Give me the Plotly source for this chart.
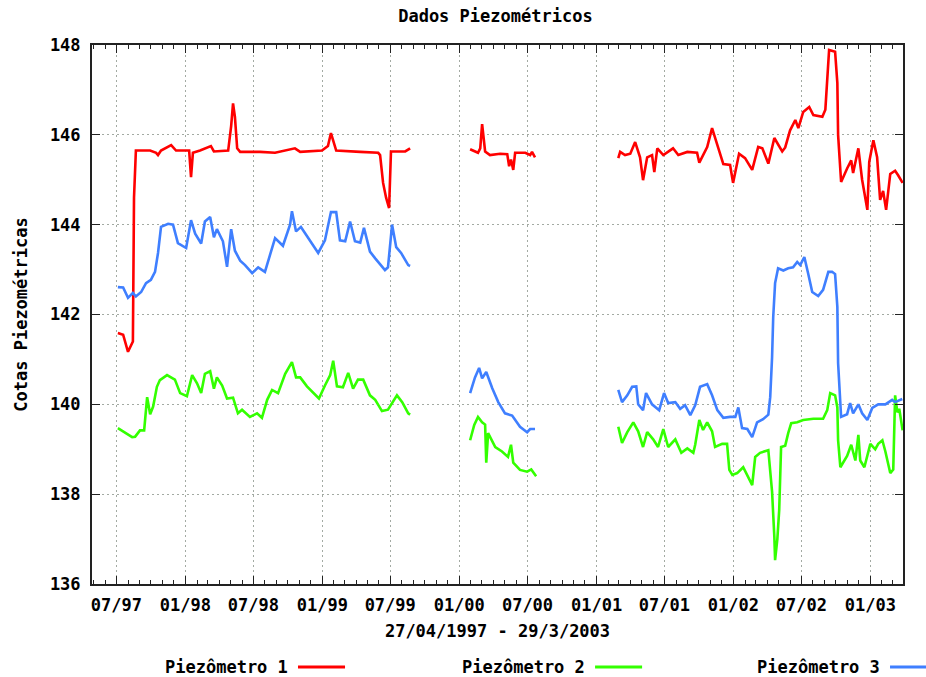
import pandas as pd
import plotly.graph_objects as go

# Record starts on 27/04/1997; positions are days since that date.
START = pd.Timestamp("1997-04-27")
END = pd.Timestamp("2003-03-29")

# None marks the periods with no readings
p1_days = [69, 83, 96, 104, 109, 112, 117, 155, 171, 176, 184, 211, 224, 259, 264, 269, 288, 317, 325,
           363, 371, 376, 381, 387, 395, 448, 488, 541, 555, 613, 629, 637, 645, 651, 715, 763, 768,
           776, 784, 792, 797, 835, 848,
           900,
           1008, 1029, 1035, 1040, 1048, 1061, 1088, 1107, 1112, 1117, 1123, 1128, 1155, 1168, 1173, 1181,
           1300,
           1403, 1408, 1421, 1435, 1448, 1461, 1469, 1480, 1493, 1499, 1507, 1523, 1549, 1563, 1587, 1613,
           1619, 1640, 1653, 1667, 1683, 1701, 1709, 1725, 1741, 1760, 1776, 1787, 1803, 1819, 1840, 1848,
           1861, 1875, 1883, 1896, 1912, 1923, 1947, 1955, 1960, 1965, 1981, 1987, 1989, 1997, 2013, 2024,
           2029, 2043, 2053, 2067, 2072, 2083, 2093, 2101, 2109, 2117, 2128, 2141, 2149, 2161]
p1_vals = [141.59, 141.55, 141.17, 141.30, 141.40, 144.60, 145.65, 145.65, 145.60, 145.55, 145.65, 145.77,
           145.65, 145.65, 145.06, 145.60, 145.65, 145.75, 145.63,
           145.65, 146.20, 146.70, 146.40, 145.70, 145.62, 145.62, 145.60, 145.70, 145.62, 145.65, 145.75,
           146.04, 145.80, 145.65, 145.62, 145.60, 145.55, 144.93, 144.60, 144.37, 145.63, 145.63, 145.70,
           None,
           145.68, 145.60, 145.70, 146.24, 145.63, 145.55, 145.58, 145.57, 145.30, 145.45, 145.22, 145.60,
           145.60, 145.55, 145.62, 145.50,
           None,
           145.48, 145.62, 145.55, 145.58, 145.84, 145.50, 144.99, 145.50, 145.55, 145.17, 145.70, 145.55,
           145.70, 145.55, 145.62, 145.60, 145.38, 145.73, 146.15, 145.80, 145.35, 145.33, 144.93, 145.58,
           145.48, 145.22, 145.73, 145.70, 145.36, 145.93, 145.63, 145.72, 146.10, 146.33, 146.15, 146.51,
           146.62, 146.44, 146.40, 146.56, 147.37, 147.89, 147.85, 147.15, 146.00, 144.95, 145.25, 145.43,
           145.15, 145.70, 145.00, 144.33, 145.40, 145.88, 145.50, 144.55, 144.75, 144.33, 145.13, 145.20,
           145.10, 144.93]

p2_days = [69, 88, 107, 115, 128, 139, 147, 155, 163, 173, 181, 200, 221, 235, 253, 267, 280, 291, 301,
           315, 325, 333, 347, 360, 376, 389, 400, 421, 440, 453, 467, 480, 496, 515, 533, 544, 555, 573,
           605, 621, 635, 643, 653, 669, 683, 696, 709, 723, 741, 755, 773, 789, 813, 827, 843, 848,
           900,
           1008, 1019, 1029, 1040, 1048, 1051, 1056, 1075, 1093, 1109, 1117, 1123, 1141, 1160, 1171, 1184,
           1300,
           1403, 1413, 1427, 1443, 1456, 1469, 1480, 1496, 1509, 1523, 1536, 1555, 1571, 1587, 1603, 1608,
           1619, 1629, 1640, 1653, 1661, 1680, 1693, 1699, 1707, 1720, 1736, 1747, 1760, 1768, 1781, 1803,
           1813, 1819, 1821, 1827, 1832, 1837, 1848, 1856, 1864, 1880, 1896, 1923, 1949, 1960, 1968, 1981,
           1987, 1989, 1995, 2013, 2024, 2035, 2043, 2048, 2059, 2075, 2088, 2096, 2107, 2115, 2128, 2136,
           2141, 2147, 2152, 2161]
p2_vals = [139.47, 139.37, 139.27, 139.28, 139.42, 139.42, 140.16, 139.78, 139.95, 140.39, 140.54, 140.65,
           140.55, 140.25, 140.18, 140.65, 140.47, 140.25, 140.68, 140.74, 140.35, 140.60, 140.42, 140.13,
           140.15, 139.80, 139.88, 139.72, 139.80, 139.70, 140.10, 140.32, 140.25, 140.68, 140.94, 140.60,
           140.60, 140.40, 140.13, 140.42, 140.65, 140.97, 140.40, 140.38, 140.70, 140.35, 140.55, 140.55,
           140.20, 140.10, 139.85, 139.88, 140.20, 140.05, 139.80, 139.77,
           None,
           139.20, 139.54, 139.72, 139.60, 139.55, 138.70, 139.36, 139.05, 138.95, 138.83, 139.10, 138.70,
           138.54, 138.50, 138.55, 138.40,
           None,
           139.50, 139.14, 139.38, 139.60, 139.40, 139.05, 139.38, 139.22, 139.05, 139.45, 139.05, 139.22,
           138.92, 139.02, 138.92, 139.10, 139.65, 139.43, 139.60, 139.40, 139.05, 139.12, 139.12, 138.54,
           138.43, 138.47, 138.60, 138.40, 138.20, 138.83, 138.92, 138.98, 138.05, 137.05, 136.53, 137.00,
           137.65, 139.05, 139.08, 139.36, 139.58, 139.60, 139.65, 139.68, 139.68, 139.87, 140.25, 140.20,
           139.93, 139.20, 138.60, 138.85, 139.10, 138.75, 139.32, 138.75, 138.60, 139.12, 139.00, 139.12,
           139.20, 138.95, 138.47, 138.55, 140.20, 139.82, 139.90, 139.42]

p3_days = [69, 83, 96, 109, 117, 131, 144, 157, 168, 176, 184, 203, 216, 229, 251, 264, 275, 291, 301,
           315, 325, 333, 349, 360, 371, 381, 395, 408, 427, 443, 461, 475, 488, 509, 528, 533, 544, 557,
           576, 603, 621, 637, 651, 661, 675, 688, 701, 715, 725, 741, 755, 781, 789, 800, 811, 824, 843,
           848,
           900,
           1008, 1021, 1032, 1040, 1051, 1067, 1083, 1101, 1120, 1141, 1160, 1168, 1181,
           1300,
           1403, 1413, 1427, 1440, 1451, 1456, 1469, 1477, 1493, 1512, 1525, 1536, 1555, 1568, 1581, 1595,
           1608, 1621, 1640, 1653, 1667, 1683, 1701, 1715, 1723, 1733, 1747, 1760, 1773, 1789, 1803, 1808,
           1813, 1816, 1821, 1829, 1843, 1856, 1869, 1880, 1888, 1899, 1909, 1920, 1936, 1949, 1963, 1973,
           1981, 1987, 1989, 1997, 2013, 2021, 2029, 2043, 2053, 2067, 2080, 2096, 2115, 2133, 2141, 2160]
p3_vals = [142.61, 142.60, 142.37, 142.48, 142.40, 142.50, 142.70, 142.77, 142.95, 143.37, 143.95, 144.02,
           144.00, 143.59, 143.48, 144.10, 143.80, 143.58, 144.07, 144.17, 143.72, 143.90, 143.63, 143.06,
           143.90, 143.42, 143.20, 143.10, 142.92, 143.05, 142.95, 143.37, 143.70, 143.53, 144.00, 144.30,
           143.85, 143.95, 143.70, 143.37, 143.65, 144.28, 144.28, 143.65, 143.63, 144.07, 143.63, 143.60,
           143.93, 143.40, 143.25, 142.99, 143.05, 144.00, 143.50, 143.37, 143.10, 143.08,
           None,
           140.25, 140.60, 140.81, 140.58, 140.72, 140.36, 140.05, 139.80, 139.75, 139.50, 139.38, 139.45,
           139.45,
           None,
           140.32, 140.05, 140.20, 140.39, 140.40, 140.00, 139.87, 140.25, 140.00, 139.87, 140.25, 140.03,
           140.05, 139.90, 139.98, 139.76, 139.98, 140.39, 140.45, 140.20, 139.87, 139.70, 139.72, 139.72,
           139.93, 139.47, 139.45, 139.27, 139.60, 139.67, 139.77, 140.16, 141.05, 141.94, 142.70, 143.03,
           142.98, 143.03, 143.05, 143.17, 143.10, 143.28, 142.92, 142.50, 142.41, 142.55, 142.95, 142.95,
           142.90, 142.17, 140.92, 139.72, 139.78, 140.03, 139.80, 140.00, 139.80, 139.65, 139.92, 140.00,
           140.00, 140.10, 140.05, 140.12]

series_names = ["Piezômetro 1", "Piezômetro 2", "Piezômetro 3"]
series_colors = ["#ff0000", "#33ff00", "#3f7fff"]

y_ticks = [136, 138, 140, 142, 144, 146, 148]
x_tick_dates = ["1997-07-01", "1998-01-01", "1998-07-01", "1999-01-01", "1999-07-01", "2000-01-01",
                "2000-07-01", "2001-01-01", "2001-07-01", "2002-01-01", "2002-07-01", "2003-01-01"]
x_tick_labels = ["07/97", "01/98", "07/98", "01/99", "07/99", "01/00",
                 "07/00", "01/01", "07/01", "01/02", "07/02", "01/03"]


def to_dates(days):
    return [START + pd.Timedelta(days=d) for d in days]


FONT = dict(family="DejaVu Sans Mono", size=17, color="#000000", weight="bold")
GRID = "#a3aaa3"
AXIS = "#222222"

fig = go.Figure()
for name, color, days, vals in zip(series_names, series_colors,
                                   [p1_days, p2_days, p3_days],
                                   [p1_vals, p2_vals, p3_vals]):
    fig.add_trace(go.Scatter(x=to_dates(days), y=vals, name=name, mode="lines",
                             line=dict(color=color, width=2.6), connectgaps=False,
                             showlegend=False))

fig.update_layout(
    width=926, height=677,
    margin=dict(l=92, r=23, t=45, b=93),
    paper_bgcolor="white", plot_bgcolor="white",
    font=FONT,
    title=dict(text="Dados Piezométricos", x=0.535, xanchor="center",
               y=1 - 16 / 677, yanchor="middle", font=FONT),
    showlegend=False,
)

fig.update_xaxes(
    type="date",
    range=[START, END],
    tickvals=x_tick_dates, ticktext=x_tick_labels,
    ticks="inside", ticklen=8, tickwidth=1, tickcolor=AXIS,
    minor=dict(dtick="M1", tick0="1997-05-01", ticks="inside", ticklen=4,
               tickcolor=AXIS, showgrid=False),
    showline=True, linecolor=AXIS, linewidth=2, mirror="allticks",
    showgrid=True, gridcolor=GRID, griddash="2px,3px", gridwidth=1,
    ticklabelstandoff=5,
    title=dict(text="27/04/1997 - 29/3/2003", font=FONT, standoff=11),
    zeroline=False,
)
fig.update_yaxes(
    range=[136, 148],
    tickvals=y_ticks,
    ticks="inside", ticklen=8, tickwidth=1, tickcolor=AXIS,
    showline=True, linecolor=AXIS, linewidth=2, mirror="allticks",
    showgrid=True, gridcolor=GRID, griddash="2px,3px", gridwidth=1,
    ticklabelstandoff=6,
    title=dict(text="Cotas Piezométricas", font=FONT, standoff=18),
    zeroline=False,
)

# Legend row below the axis: label followed by a line sample
legend_x = [0.0875, 0.4538, 0.8175]
sample_len = 0.058
sample_gap = 0.1665
for name, color, lx in zip(series_names, series_colors, legend_x):
    fig.add_annotation(text=name, xref="paper", yref="paper", x=lx, y=-0.154,
                       xanchor="left", yanchor="middle", showarrow=False, font=FONT)
    fig.add_shape(type="line", xref="paper", yref="paper",
                  x0=lx + sample_gap, x1=lx + sample_gap + sample_len, y0=-0.154, y1=-0.154,
                  line=dict(color=color, width=3))

fig.write_html("out.html")
